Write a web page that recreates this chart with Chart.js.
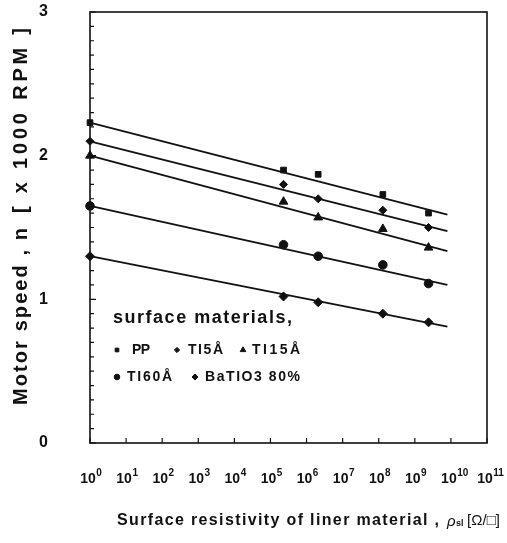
<!DOCTYPE html>
<html>
<head>
<meta charset="utf-8">
<script src="https://cdn.jsdelivr.net/npm/chart.js@4.4.1/dist/chart.umd.min.js"></script>
<style>
  html, body { margin: 0; padding: 0; background: #fff; }
  canvas { display: block; }
</style>
</head>
<body>
<canvas id="chart" width="507" height="543"></canvas>
<script>
(function () {
  "use strict";

  // surface resistivity of liner material [ohm/sq]
  const resistivity = [1, 2.3e5, 2.1e6, 1.3e8, 2.4e9];

  // motor speed [x 1000 RPM]
  const speedPP = [2.23, 1.90, 1.87, 1.73, 1.60];
  const speedTi5 = [2.10, 1.80, 1.70, 1.62, 1.50];
  const speedTi15 = [2.00, 1.68, 1.57, 1.49, 1.36];
  const speedTi60 = [1.65, 1.38, 1.30, 1.24, 1.11];
  const speedBaTiO3 = [1.30, 1.02, 0.98, 0.90, 0.84];

  // fitted straight lines (end points)
  const fitX = [1, 8e9];
  const fitPP = [2.23, 1.59];
  const fitTi5 = [2.10, 1.475];
  const fitTi15 = [2.00, 1.335];
  const fitTi60 = [1.65, 1.10];
  const fitBaTiO3 = [1.30, 0.81];

  const seriesNames = ["PP", "TI5Å", "TI15Å", "TI60Å", "BaTIO3 80%"];
  const xTickValues = [1, 1e1, 1e2, 1e3, 1e4, 1e5, 1e6, 1e7, 1e8, 1e9, 1e10, 1e11];
  const xTickExponents = ["0", "1", "2", "3", "4", "5", "6", "7", "8", "9", "10", "11"];
  const yTickValues = [0, 1, 2, 3];

  const FONT = "'Liberation Sans', Arial, sans-serif";
  const INK = "#111";

  const markers = [
    { pointStyle: "rect", radius: 4, legendRadius: 2.6 },
    { pointStyle: "rectRot", radius: 4, legendRadius: 2.6 },
    { pointStyle: "triangle", radius: 5, legendRadius: 3.2 },
    { pointStyle: "circle", radius: 4.3, legendRadius: 2.8 },
    { pointStyle: "rectRot", radius: 4.5, legendRadius: 3 }
  ];

  const speeds = [speedPP, speedTi5, speedTi15, speedTi60, speedBaTiO3];
  const fits = [fitPP, fitTi5, fitTi15, fitTi60, fitBaTiO3];

  function toPoints(xs, ys) {
    return xs.map((x, i) => ({ x: x, y: ys[i] }));
  }

  const datasets = [];
  fits.forEach((fit, i) => {
    datasets.push({
      label: seriesNames[i] + " fit",
      data: toPoints(fitX, fit),
      showLine: true,
      borderColor: INK,
      borderWidth: 1.8,
      pointRadius: 0,
      clip: false
    });
  });
  speeds.forEach((ys, i) => {
    datasets.push({
      label: seriesNames[i],
      data: toPoints(resistivity, ys),
      showLine: false,
      pointStyle: markers[i].pointStyle,
      pointRadius: markers[i].radius,
      pointBackgroundColor: INK,
      pointBorderColor: INK,
      pointBorderWidth: 1,
      clip: false
    });
  });

  // draw text stretched by letter spacing so it spans a given width
  function fillSpaced(ctx, text, x, y, width) {
    ctx.letterSpacing = "0px";
    const w = ctx.measureText(text).width;
    const gap = width ? (width - w) / Math.max(1, text.length - 1) : 0;
    ctx.letterSpacing = gap.toFixed(2) + "px";
    ctx.fillText(text, x, y);
    ctx.letterSpacing = "0px";
  }

  const framePlugin = {
    id: "frame",
    afterDatasetsDraw(chart) {
      const { ctx, chartArea: a, scales } = chart;
      ctx.save();
      ctx.strokeStyle = INK;
      ctx.lineWidth = 1.6;
      ctx.strokeRect(a.left, a.top, a.right - a.left, a.bottom - a.top);

      // inward minor ticks on y axis
      ctx.lineWidth = 1.2;
      ctx.beginPath();
      for (let v = 0; v <= 30; v++) {
        const y = scales.y.getPixelForValue(v / 10);
        ctx.moveTo(a.left, y);
        ctx.lineTo(a.left + (v % 10 === 0 ? 6 : 4), y);
      }
      // inward decade ticks on x axis
      xTickValues.forEach((v) => {
        const x = scales.x.getPixelForValue(v);
        ctx.moveTo(x, a.bottom);
        ctx.lineTo(x, a.bottom - 5);
      });
      ctx.stroke();
      ctx.restore();
    }
  };

  const labelsPlugin = {
    id: "labels",
    afterDraw(chart) {
      const { ctx, scales } = chart;
      const helpers = Chart.helpers;
      ctx.save();
      ctx.fillStyle = INK;
      ctx.textBaseline = "middle";

      // x tick labels with raised exponents
      xTickValues.forEach((v, i) => {
        const x = scales.x.getPixelForValue(v);
        ctx.font = "bold 14px " + FONT;
        ctx.textAlign = "center";
        ctx.fillText("10", x - 2, 479);
        const bw = ctx.measureText("10").width;
        ctx.font = "bold 10px " + FONT;
        ctx.textAlign = "left";
        ctx.fillText(xTickExponents[i], x - 2 + bw / 2 + 0.5, 473);
      });

      // y axis title
      ctx.save();
      ctx.translate(21, 216);
      ctx.rotate(-Math.PI / 2);
      ctx.font = "bold 20px " + FONT;
      ctx.textAlign = "left";
      fillSpaced(ctx, "Motor speed , n", -189, 0, 177);
      fillSpaced(ctx, "[ x 1000 RPM ]", 3, 0, 185);
      ctx.restore();

      // x axis title
      ctx.textAlign = "left";
      const y = 521;
      ctx.font = "bold 16px " + FONT;
      fillSpaced(ctx, "Surface resistivity of liner material ,", 117, y, 322);
      ctx.font = "italic 15px " + FONT;
      ctx.fillText("ρ", 447, y + 1);
      ctx.font = "bold 9px " + FONT;
      ctx.fillText("sl", 456, y + 3);
      ctx.font = "15px " + FONT;
      fillSpaced(ctx, "[Ω/□]", 467, y, 33);

      // legend inside the plot
      ctx.font = "bold 18px " + FONT;
      fillSpaced(ctx, "surface materials,", 113, 318, 179);

      const entries = [
        { idx: 0, mx: 117, tx: 132, ty: 350, w: 18 },
        { idx: 1, mx: 177, tx: 188, ty: 350, w: 35 },
        { idx: 2, mx: 243, tx: 252, ty: 350, w: 48 },
        { idx: 3, mx: 117, tx: 127, ty: 377, w: 45 },
        { idx: 4, mx: 195, tx: 205, ty: 377, w: 95 }
      ];
      entries.forEach((e) => {
        const m = markers[e.idx];
        ctx.fillStyle = INK;
        ctx.strokeStyle = INK;
        ctx.lineWidth = 1;
        helpers.drawPoint(ctx, {
          pointStyle: m.pointStyle,
          radius: m.legendRadius,
          borderWidth: 1,
          rotation: 0
        }, e.mx, e.ty);
        ctx.font = "bold 14px " + FONT;
        fillSpaced(ctx, seriesNames[e.idx], e.tx, e.ty, e.w);
      });
      ctx.restore();
    }
  };

  new Chart(document.getElementById("chart"), {
    type: "scatter",
    data: { datasets: datasets },
    plugins: [framePlugin, labelsPlugin],
    options: {
      responsive: false,
      animation: false,
      layout: { padding: { top: 12, right: 20, left: 0, bottom: 0 } },
      plugins: {
        legend: { display: false },
        tooltip: { enabled: false }
      },
      scales: {
        x: {
          type: "logarithmic",
          min: 1,
          max: 1e11,
          afterFit(scale) {
            scale.height = 100;
            scale.paddingLeft = 0;
            scale.paddingRight = 0;
            scale.paddingTop = 0;
            scale.paddingBottom = 0;
          },
          afterBuildTicks(scale) {
            scale.ticks = xTickValues.map((v) => ({ value: v, major: true }));
          },
          grid: { display: false },
          border: { display: false },
          ticks: { display: false }
        },
        y: {
          min: 0,
          max: 3,
          afterFit(scale) {
            scale.width = 90;
            scale.paddingLeft = 0;
            scale.paddingRight = 0;
            scale.paddingTop = 0;
            scale.paddingBottom = 0;
          },
          afterBuildTicks(scale) {
            scale.ticks = yTickValues.map((v) => ({ value: v }));
          },
          grid: { display: false },
          border: { display: false },
          ticks: {
            padding: 34,
            color: INK,
            font: { family: FONT, size: 16, weight: "bold" }
          }
        }
      }
    }
  });
})();
</script>
</body>
</html>
